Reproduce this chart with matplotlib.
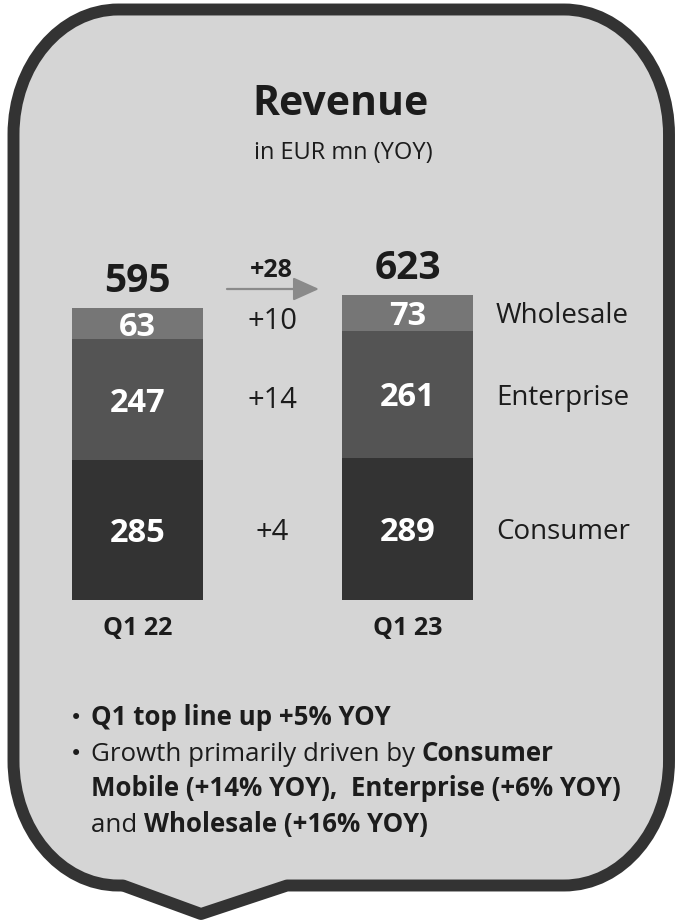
import matplotlib
matplotlib.use("Agg")
import matplotlib.pyplot as plt
from matplotlib.path import Path
from matplotlib.patches import PathPatch
import numpy as np

# ---------------- data ----------------
periods = ["Q1 22", "Q1 23"]
segments = ["Consumer", "Enterprise", "Wholesale"]
consumer = [285, 289]
enterprise = [247, 261]
wholesale = [63, 73]
totals = [595, 623]
segment_deltas = ["+4", "+14", "+10"]
total_delta = "+28"
title = "Revenue"
subtitle = "in EUR mn (YOY)"
bullet_lines = [
    [("Q1 top line up +5% YOY", "bold")],
    [("Growth primarily driven by ", "normal"), ("Consumer", "bold")],
    [("Mobile (+14% YOY),  Enterprise (+6% YOY)", "bold")],
    [("and ", "normal"), ("Wholesale (+16% YOY)", "bold")],
]
bullet_marks = [True, True, False, False]

# ---------------- style ----------------
plt.rcParams['font.family'] = ['Open Sans', 'DejaVu Sans']
TXT = "#1c1c1c"
FRAME_FILL = "#d5d5d5"
FRAME_EDGE = "#333333"
seg_colors = ["#333333", "#545454", "#767676"]

W, H = 676, 921
fig = plt.figure(figsize=(W / 100, H / 100), dpi=100)
fig.patch.set_facecolor("white")

bg = fig.add_axes([0, 0, 1, 1])
bg.set_xlim(0, W)
bg.set_ylim(H, 0)
bg.axis("off")

# ---------------- speech-bubble frame ----------------
x0, x1, y0, y1 = 13.5, 669, 9.5, 885.5
rx, ry = 105, 125
k = 0.5523
tip = (201, 914)
base_l, base_r = 123, 287
verts = [
    (x0 + rx, y0),
    (x1 - rx, y0),
    (x1 - rx + k * rx, y0), (x1, y0 + ry - k * ry), (x1, y0 + ry),
    (x1, y1 - ry),
    (x1, y1 - ry + k * ry), (x1 - rx + k * rx, y1), (x1 - rx, y1),
    (base_r, y1),
    tip,
    (base_l, y1),
    (x0 + rx, y1),
    (x0 + rx - k * rx, y1), (x0, y1 - ry + k * ry), (x0, y1 - ry),
    (x0, y0 + ry),
    (x0, y0 + ry - k * ry), (x0 + rx - k * rx, y0), (x0 + rx, y0),
    (x0 + rx, y0),
]
codes = [Path.MOVETO, Path.LINETO,
         Path.CURVE4, Path.CURVE4, Path.CURVE4,
         Path.LINETO,
         Path.CURVE4, Path.CURVE4, Path.CURVE4,
         Path.LINETO, Path.LINETO, Path.LINETO, Path.LINETO,
         Path.CURVE4, Path.CURVE4, Path.CURVE4,
         Path.LINETO,
         Path.CURVE4, Path.CURVE4, Path.CURVE4,
         Path.CLOSEPOLY]
bg.add_patch(PathPatch(Path(verts, codes), facecolor=FRAME_FILL,
                       edgecolor=FRAME_EDGE, lw=8.6, joinstyle="round"))

# ---------------- titles ----------------
bg.text(340, 115, title, ha="center", va="baseline", fontsize=29.5,
        fontweight="bold", color=TXT)
bg.text(343, 159, subtitle, ha="center", va="baseline", fontsize=17,
        fontweight="normal", color=TXT)

# ---------------- bars ----------------
px_per_unit = 0.49
unit_px = 270.0           # pixel distance between the two bars
bar_w = 131 / unit_px
ax_left, ax_right, ax_bottom, ax_top = 50, 520, 600, 200
ax = fig.add_axes([ax_left / W, (H - ax_bottom) / H,
                   (ax_right - ax_left) / W, (ax_bottom - ax_top) / H])
ax.set_facecolor("none")
ax.set_xlim((ax_left - 137.5) / unit_px, (ax_right - 137.5) / unit_px)
ax.set_ylim(0, (ax_bottom - ax_top) / px_per_unit)
for s in ax.spines.values():
    s.set_visible(False)
ax.set_yticks([])

x = np.arange(len(periods))
series = [consumer, enterprise, wholesale]
bottom = np.zeros(len(periods))
centers = []
for vals, col in zip(series, seg_colors):
    vals = np.array(vals, dtype=float)
    ax.bar(x, vals, bottom=bottom, width=bar_w, color=col, linewidth=0)
    c = bottom + vals / 2
    centers.append(c)
    for xi, ci, v in zip(x, c, vals):
        ax.annotate(f"{int(v)}", xy=(xi, ci), xytext=(0, -8.6),
                    textcoords="offset points", ha="center", va="baseline",
                    fontsize=23.5, fontweight="bold", color="white")
    bottom = bottom + vals

# totals above bars
for xi, t in zip(x, totals):
    ax.annotate(f"{t}", xy=(xi, t), xytext=(0, 11.5),
                textcoords="offset points", ha="center", va="baseline",
                fontsize=28, fontweight="bold", color=TXT)

# segment deltas between bars
for c, d in zip(centers, segment_deltas):
    ax.annotate(d, xy=(0.5, c.mean()), xytext=(0, -7.6),
                textcoords="offset points", ha="center", va="baseline",
                fontsize=21, fontweight="normal", color=TXT)

# segment names to the right of the second bar
for c, name in zip(centers, segments):
    ax.annotate(name, xy=(1 + bar_w / 2, c[1]), xytext=(16.5, -7.4),
                textcoords="offset points", ha="left", va="baseline",
                fontsize=20, fontweight="normal", color=TXT)

# period labels
ax.set_xticks(x)
ax.set_xticklabels(periods, fontsize=18, fontweight="bold", color=TXT)
ax.tick_params(axis="x", length=0, pad=25.5)
for lab in ax.get_xticklabels():
    lab.set_va("baseline")

# total delta + arrow
bg.text(271, 277, total_delta, ha="center", va="baseline", fontsize=18,
        fontweight="bold", color=TXT)
bg.annotate("", xy=(319, 289), xytext=(227, 289),
            arrowprops=dict(arrowstyle="-|>,head_length=0.8,head_width=0.36",
                            color="#8a8a8a", lw=1.6, mutation_scale=20,
                            shrinkA=0, shrinkB=0))

# ---------------- bullets ----------------
y_base = 725
dy = 35.7
for i, (parts, mark) in enumerate(zip(bullet_lines, bullet_marks)):
    yb = y_base + i * dy
    if mark:
        bg.text(76, yb - 1, "\u2022", ha="center", va="baseline",
                fontsize=15, color=TXT, family=["DejaVu Sans"])
    prev = None
    for txt, wt in parts:
        if prev is None:
            prev = bg.text(91, yb, txt, ha="left", va="baseline",
                           fontsize=18.6, fontweight=wt, color=TXT)
        else:
            prev = bg.annotate(txt, xy=(1, 0), xycoords=prev, ha="left",
                               va="bottom", fontsize=18.6, fontweight=wt,
                               color=TXT)

fig.savefig("out.png", dpi=100, facecolor="white")
